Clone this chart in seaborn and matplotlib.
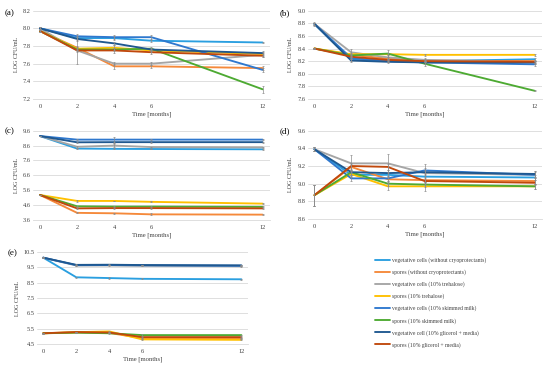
import matplotlib
matplotlib.use("Agg")
import matplotlib.pyplot as plt
import seaborn as sns
import pandas as pd
import numpy as np

months = [0, 2, 4, 6, 12]
series = [
    "vegetative cells (without cryoprotectants)",
    "spores (without cryoprotectants)",
    "vegetative cells (10% trehalose)",
    "spores (10% trehalose)",
    "vegetative cells (10% skimmed milk)",
    "spores (10% skimmed milk)",
    "vegetative cell (10% glicerol + media)",
    "spores (10% glicerol + media)",
]
colors = ["#2A9FE0", "#F5893A", "#A5A5A5", "#FFC000",
          "#2F78CE", "#4DAA32", "#1F5890", "#C0480C"]

# values per panel, rows in the order of `series`
a_values = [
    [8.00, 7.89, 7.89, 7.86, 7.84],
    [7.97, 7.78, 7.57, 7.57, 7.55],
    [8.00, 7.75, 7.60, 7.60, 7.70],
    [7.97, 7.77, 7.78, 7.75, 7.71],
    [8.00, 7.91, 7.90, 7.90, 7.53],
    [7.97, 7.76, 7.76, 7.77, 7.31],
    [8.00, 7.88, 7.83, 7.76, 7.72],
    [7.97, 7.75, 7.75, 7.73, 7.69],
]
a_errors = [
    [0.01, 0.02, 0.02, 0.02, 0.01],
    [0.01, 0.02, 0.03, 0.02, 0.02],
    [0.01, 0.15, 0.02, 0.02, 0.02],
    [0.01, 0.02, 0.03, 0.02, 0.02],
    [0.01, 0.03, 0.02, 0.03, 0.02],
    [0.01, 0.02, 0.02, 0.02, 0.04],
    [0.01, 0.02, 0.02, 0.02, 0.02],
    [0.01, 0.02, 0.03, 0.02, 0.02],
]
b_values = [
    [8.79, 8.22, 8.21, 8.20, 8.23],
    [8.40, 8.30, 8.24, 8.21, 8.20],
    [8.79, 8.34, 8.26, 8.22, 8.18],
    [8.40, 8.31, 8.31, 8.30, 8.30],
    [8.79, 8.25, 8.20, 8.18, 8.15],
    [8.40, 8.29, 8.32, 8.16, 7.73],
    [8.79, 8.21, 8.19, 8.18, 8.18],
    [8.40, 8.27, 8.22, 8.20, 8.19],
]
b_errors = [
    [0.02, 0.02, 0.02, 0.02, 0.02],
    [0.01, 0.02, 0.02, 0.02, 0.02],
    [0.03, 0.06, 0.03, 0.03, 0.02],
    [0.01, 0.02, 0.02, 0.02, 0.02],
    [0.02, 0.02, 0.02, 0.02, 0.02],
    [0.01, 0.02, 0.05, 0.04, 0.01],
    [0.02, 0.02, 0.02, 0.02, 0.02],
    [0.01, 0.02, 0.02, 0.02, 0.02],
]
c_values = [
    [9.24, 8.40, 8.38, 8.37, 8.35],
    [5.28, 4.08, 4.05, 3.98, 3.96],
    [9.24, 8.52, 8.60, 8.50, 8.48],
    [5.28, 4.88, 4.88, 4.82, 4.70],
    [9.24, 9.00, 9.00, 9.00, 9.00],
    [5.28, 4.52, 4.50, 4.50, 4.48],
    [9.24, 8.82, 8.83, 8.83, 8.83],
    [5.28, 4.38, 4.40, 4.40, 4.38],
]
c_errors = [
    [0.02, 0.03, 0.03, 0.03, 0.03],
    [0.02, 0.03, 0.03, 0.06, 0.03],
    [0.02, 0.05, 0.12, 0.03, 0.03],
    [0.02, 0.06, 0.03, 0.03, 0.03],
    [0.02, 0.03, 0.20, 0.03, 0.03],
    [0.02, 0.03, 0.03, 0.03, 0.03],
    [0.02, 0.03, 0.03, 0.03, 0.03],
    [0.02, 0.03, 0.03, 0.03, 0.03],
]
d_values = [
    [9.39, 9.10, 9.10, 9.08, 9.07],
    [8.87, 9.19, 9.05, 9.04, 9.03],
    [9.39, 9.23, 9.23, 9.12, 9.10],
    [8.87, 9.11, 8.97, 8.97, 8.97],
    [9.39, 9.06, 9.06, 9.15, 9.10],
    [8.87, 9.13, 9.00, 8.99, 8.97],
    [9.39, 9.13, 9.12, 9.13, 9.11],
    [8.87, 9.20, 9.19, 9.03, 9.01],
]
d_errors = [
    [0.02, 0.03, 0.03, 0.03, 0.03],
    [0.12, 0.03, 0.03, 0.03, 0.03],
    [0.02, 0.09, 0.11, 0.10, 0.04],
    [0.12, 0.03, 0.04, 0.05, 0.03],
    [0.02, 0.03, 0.03, 0.03, 0.03],
    [0.12, 0.03, 0.03, 0.03, 0.03],
    [0.02, 0.03, 0.03, 0.03, 0.03],
    [0.12, 0.03, 0.03, 0.03, 0.03],
]
e_values = [
    [10.13, 8.85, 8.80, 8.75, 8.72],
    [5.20, 5.25, 5.22, 4.88, 4.87],
    [10.13, 9.62, 9.62, 9.60, 9.57],
    [5.20, 5.27, 5.32, 4.80, 4.77],
    [10.13, 9.64, 9.65, 9.63, 9.60],
    [5.20, 5.24, 5.20, 5.08, 5.08],
    [10.13, 9.66, 9.67, 9.65, 9.63],
    [5.20, 5.28, 5.25, 4.95, 4.95],
]
e_errors = [
    [0.03, 0.03, 0.05, 0.03, 0.03],
    [0.03, 0.03, 0.03, 0.03, 0.03],
    [0.03, 0.03, 0.03, 0.03, 0.03],
    [0.03, 0.03, 0.03, 0.03, 0.03],
    [0.03, 0.03, 0.03, 0.03, 0.03],
    [0.03, 0.03, 0.03, 0.06, 0.03],
    [0.03, 0.03, 0.05, 0.03, 0.03],
    [0.03, 0.03, 0.03, 0.03, 0.03],
]

panel_labels = ["(a)", "(b)", "(c)", "(d)", "(e)"]
y_ranges = [(7.2, 8.2, 0.2), (7.6, 9.0, 0.2), (3.6, 9.6, 1.0),
            (8.6, 9.6, 0.2), (4.5, 10.5, 1.0)]
x_label = "Time [months]"
y_label = "LOG CFU/mL"

sns.set_theme(style="white")
plt.rcParams["font.family"] = ["Liberation Serif", "DejaVu Serif"]

W, H = 550, 369
fig = plt.figure(figsize=(5.5, 3.69), dpi=100)
fig.patch.set_facecolor("white")

# pixel boxes: left, right, top, bottom
boxes = [(33, 270, 10.7, 99), (307.5, 542, 10.7, 99),
         (33, 270, 130.7, 220), (307.5, 542, 130.7, 219),
         (37, 248, 252, 344)]
label_pos = [(5, 13), (280, 13), (5, 131), (280, 131), (8, 253)]

all_values = [a_values, b_values, c_values, d_values, e_values]
all_errors = [a_errors, b_errors, c_errors, d_errors, e_errors]
palette = dict(zip(series, colors))

last_ax = None
for i in range(5):
    l, r, t, b = boxes[i]
    ax = fig.add_axes([l / W, 1 - b / H, (r - l) / W, (b - t) / H])
    rows = []
    for s, vals, errs in zip(series, all_values[i], all_errors[i]):
        for m, v, e in zip(months, vals, errs):
            rows.append({"month": m, "cfu": v, "err": e, "series": s})
    df = pd.DataFrame(rows)
    sns.lineplot(data=df, x="month", y="cfu", hue="series", hue_order=series,
                 palette=palette, linewidth=1.35, legend=False, ax=ax,
                 errorbar=None, sort=False, zorder=3)
    ax.errorbar(df["month"], df["cfu"], yerr=df["err"], fmt="none",
                ecolor="#8c8c8c", elinewidth=0.5, capsize=1.0,
                capthick=0.5, zorder=4)
    lo, hi, st = y_ranges[i]
    ticks = np.arange(lo, hi + st / 2, st)
    ax.set_ylim(lo, hi)
    ax.set_yticks(ticks)
    ax.set_yticklabels([f"{v:.1f}" for v in ticks])
    ax.set_xlim(-0.38, 12.4)
    ax.set_xticks(months)
    ax.set_xticklabels([str(m) for m in months])
    ax.grid(axis="y", color="#d9d9d9", linewidth=0.6)
    ax.grid(axis="x", visible=False)
    ax.set_axisbelow(True)
    for sp in ["top", "right", "left"]:
        ax.spines[sp].set_visible(False)
    ax.spines["bottom"].set_color("#d9d9d9")
    ax.spines["bottom"].set_linewidth(0.6)
    ax.tick_params(axis="both", length=0, labelsize=4.6, colors="#404040")
    ax.tick_params(axis="y", pad=1.5)
    ax.tick_params(axis="x", pad=3.5)
    ax.set_xlabel(x_label, fontsize=4.8, color="#404040", labelpad=2)
    ax.set_ylabel(y_label, fontsize=4.3, color="#404040", labelpad=3)
    ax.set_facecolor("white")
    fig.text(label_pos[i][0] / W, 1 - label_pos[i][1] / H, panel_labels[i],
             fontsize=6.5, ha="left", va="center", color="black")
    last_ax = ax

handles = last_ax.get_lines()[:len(series)]
leg = fig.legend(handles, series, loc="upper left",
                 bbox_to_anchor=(375 / W, 1 - 257.5 / H),
                 frameon=False, fontsize=4.1, handlelength=2.7,
                 handletextpad=0.2, labelspacing=1.1, borderpad=0,
                 borderaxespad=0)
for txt in leg.get_texts():
    txt.set_color("#404040")

fig.savefig("out.png", dpi=100, facecolor="white")
